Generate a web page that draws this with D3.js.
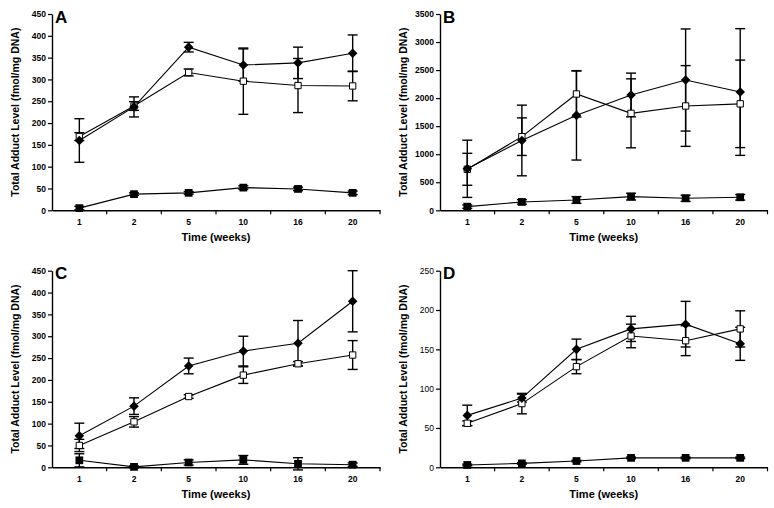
<!DOCTYPE html>
<html>
<head>
<meta charset="utf-8">
<script src="https://cdn.jsdelivr.net/npm/d3@7"></script>
<style>
html,body{margin:0;padding:0;background:#fff;}
svg{display:block;}
</style>
</head>
<body>
<svg id="chart" width="774" height="508"></svg>
<script>
// ---------- data ----------
const weeks = ["1", "2", "5", "10", "16", "20"];

// Panel A
const aDiamond    = [160, 237, 374, 333, 338, 360];
const aDiamondErr = [50, 23, 11, 37, 36, 42];
const aOpen       = [169, 239, 316, 296, 286, 285];
const aOpenErr    = [9, 10, 8, 76, 62, 34];
const aFilled     = [5, 37, 40, 52, 49, 40];
const aFilledErr  = [4, 3, 3, 4, 4, 4];
const aTicks      = [0, 50, 100, 150, 200, 250, 300, 350, 400, 450];

// Panel B
const bDiamond    = [740, 1245, 1693, 2056, 2323, 2109];
const bDiamondErr = [510, 630, 797, 390, 910, 1130];
const bOpen       = [731, 1313, 2074, 1729, 1860, 1898];
const bOpenErr    = [285, 335, 410, 615, 720, 780];
const bFilled     = [65, 149, 184, 244, 214, 232];
const bFilledErr  = [30, 40, 60, 60, 55, 50];
const bTicks      = [0, 500, 1000, 1500, 2000, 2500, 3000, 3500];

// Panel C
const cDiamond    = [72, 140, 232, 266, 284, 380];
const cDiamondErr = [29, 19, 18, 34, 52, 70];
const cOpen       = [50, 104, 162, 211, 237, 257];
const cOpenErr    = [14, 12, 4, 19, 5, 33];
const cFilled     = [16, 1, 11, 17, 8, 6];
const cFilledErr  = [15, 2, 6, 10, 14, 4];
const cTicks      = [0, 50, 100, 150, 200, 250, 300, 350, 400, 450];

// Panel D
const dDiamond    = [66, 88, 150, 176, 182, 157];
const dDiamondErr = [13, 5, 13, 16, 29, 21];
const dOpen       = [56, 81, 128, 167, 161, 176];
const dOpenErr    = [3, 13, 9, 15, 19, 23];
const dFilled     = [3, 5, 8, 12, 12, 12];
const dFilledErr  = [1, 1, 1, 1, 1, 1];
const dTicks      = [0, 50, 100, 150, 200, 250];

const letters = ["A", "B", "C", "D"];
const yTitle = "Total Adduct Level (fmol/mg DNA)";
const xTitle = "Time (weeks)";

// ---------- drawing ----------
const FONT = "Arial, 'Liberation Sans', Helvetica, sans-serif";
const svg = d3.select("#chart");

const panels = [
  {letter: letters[0], x0: 52,  x1: 380,   yb: 210.3, yt: 14,    ticks: aTicks, dia: aDiamond, diaE: aDiamondErr, op: aOpen, opE: aOpenErr, fi: aFilled, fiE: aFilledErr, yBold: true},
  {letter: letters[1], x0: 440, x1: 767.5, yb: 210.3, yt: 14,    ticks: bTicks, dia: bDiamond, diaE: bDiamondErr, op: bOpen, opE: bOpenErr, fi: bFilled, fiE: bFilledErr, yBold: true},
  {letter: letters[2], x0: 52,  x1: 380,   yb: 467.3, yt: 270.7, ticks: cTicks, dia: cDiamond, diaE: cDiamondErr, op: cOpen, opE: cOpenErr, fi: cFilled, fiE: cFilledErr, yBold: true},
  {letter: letters[3], x0: 440, x1: 767.5, yb: 467.3, yt: 270.7, ticks: dTicks, dia: dDiamond, diaE: dDiamondErr, op: dOpen, opE: dOpenErr, fi: dFilled, fiE: dFilledErr, yBold: false}
];

panels.forEach(p => {
  const g = svg.append("g");
  const x = d3.scaleBand().domain(weeks).range([p.x0, p.x1]);
  const y = d3.scaleLinear().domain([0, d3.max(p.ticks)]).range([p.yb, p.yt]);
  const cx = w => x(w) + x.bandwidth() / 2;

  // y axis
  const ya = g.append("g").attr("transform", `translate(${p.x0},0)`)
    .call(d3.axisLeft(y).tickValues(p.ticks).tickFormat(d3.format("d"))
      .tickSize(4).tickSizeOuter(0).tickPadding(2));
  ya.select(".domain").attr("stroke-width", 1.4);
  ya.selectAll(".tick line").attr("stroke-width", 1.2);
  ya.selectAll("text").attr("font-family", FONT).attr("font-size", 8.5)
    .attr("font-weight", p.yBold ? "bold" : "normal").attr("fill", "#000");

  // x axis: labels centered, ticks at band boundaries
  const xa = g.append("g").attr("transform", `translate(0,${p.yb})`)
    .call(d3.axisBottom(x).tickSize(0).tickSizeOuter(0).tickPadding(9));
  xa.select(".domain").attr("stroke-width", 1.4);
  xa.selectAll("text").attr("font-family", FONT).attr("font-size", 8.5)
    .attr("font-weight", "bold").attr("fill", "#000");
  g.append("g").selectAll("line").data(weeks).join("line")
    .attr("x1", d => x(d) + x.bandwidth()).attr("x2", d => x(d) + x.bandwidth())
    .attr("y1", p.yb).attr("y2", p.yb + 4)
    .attr("stroke", "#000").attr("stroke-width", 1.2);

  // titles
  g.append("text")
    .attr("transform", `translate(${p.x0 - 36},${(p.yb + p.yt) / 2}) rotate(-90)`)
    .attr("text-anchor", "middle").attr("dominant-baseline", "middle")
    .attr("font-family", FONT).attr("font-size", 10.5).attr("font-weight", "bold")
    .text(yTitle);
  g.append("text")
    .attr("x", (p.x0 + p.x1) / 2).attr("y", p.yb + 31)
    .attr("text-anchor", "middle")
    .attr("font-family", FONT).attr("font-size", 11).attr("font-weight", "bold")
    .text(xTitle);
  g.append("text")
    .attr("x", p.x0 + 3).attr("y", p.yt + 8.5)
    .attr("font-family", FONT).attr("font-size", 17).attr("font-weight", "bold")
    .text(p.letter);

  const series = [
    {v: p.fi,  e: p.fiE,  kind: "filled"},
    {v: p.op,  e: p.opE,  kind: "open"},
    {v: p.dia, e: p.diaE, kind: "diamond"}
  ];

  const line = d3.line().x((d, i) => cx(weeks[i])).y(d => y(d));

  // lines
  series.forEach(s => {
    g.append("path").datum(s.v).attr("d", line)
      .attr("fill", "none").attr("stroke", "#000").attr("stroke-width", 1.1);
  });

  // error bars
  series.forEach(s => {
    const eb = g.append("g").attr("stroke", "#000").attr("stroke-width", 1.4);
    s.v.forEach((v, i) => {
      const xc = cx(weeks[i]);
      const lo = y(v - s.e[i]);
      const hi = y(v + s.e[i]);
      eb.append("line").attr("x1", xc).attr("x2", xc).attr("y1", lo).attr("y2", hi);
      eb.append("line").attr("x1", xc - 5).attr("x2", xc + 5).attr("y1", lo).attr("y2", lo);
      eb.append("line").attr("x1", xc - 5).attr("x2", xc + 5).attr("y1", hi).attr("y2", hi);
    });
  });

  // markers
  series.forEach(s => {
    const mg = g.append("g");
    s.v.forEach((v, i) => {
      const xc = cx(weeks[i]), yc = y(v);
      if (s.kind === "filled") {
        mg.append("path").attr("d", d3.symbol(d3.symbolSquare, 60)())
          .attr("transform", `translate(${xc},${yc})`).attr("fill", "#000");
      } else if (s.kind === "open") {
        mg.append("path").attr("d", d3.symbol(d3.symbolSquare, 40)())
          .attr("transform", `translate(${xc},${yc})`)
          .attr("fill", "#fff").attr("stroke", "#000").attr("stroke-width", 1);
      } else {
        mg.append("path").attr("d", d3.symbol(d3.symbolSquare, 46)())
          .attr("transform", `translate(${xc},${yc}) rotate(45)`).attr("fill", "#000");
      }
    });
  });
});
</script>
</body>
</html>
